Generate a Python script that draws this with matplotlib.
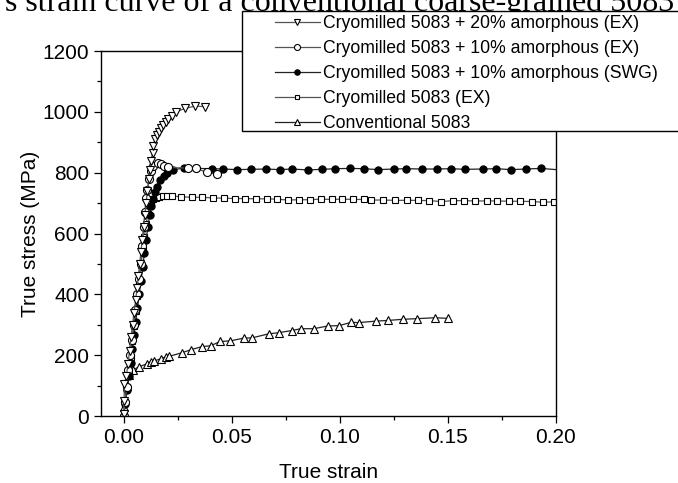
import matplotlib
matplotlib.use("Agg")
import matplotlib.pyplot as plt
from matplotlib.patches import Rectangle
from matplotlib.ticker import MultipleLocator

plt.rcParams['font.family'] = ['Liberation Sans', 'DejaVu Sans']

# ---------------- data ----------------
labels = ["Cryomilled 5083 + 20% amorphous (EX)",
          "Cryomilled 5083 + 10% amorphous (EX)",
          "Cryomilled 5083 + 10% amorphous (SWG)",
          "Cryomilled 5083 (EX)",
          "Conventional 5083"]

am20_strain = [0.0000, 0.0002, 0.0003, 0.0012, 0.0020, 0.0027, 0.0034, 0.0041, 0.0048, 0.0055,
               0.0062, 0.0068, 0.0074, 0.0080, 0.0086, 0.0092, 0.0098, 0.0104, 0.0110, 0.0116,
               0.0121, 0.0126, 0.0134, 0.0137, 0.0145, 0.0153, 0.0162, 0.0173, 0.0183, 0.0196,
               0.0207, 0.0222, 0.0242, 0.0284, 0.0330, 0.0376]
am20_stress = [5, 50, 105, 130, 170, 215, 260, 300, 340, 380,
               420, 460, 500, 540, 580, 620, 660, 700, 740, 780,
               810, 839, 866, 888, 910, 924, 935, 946, 957, 968,
               975, 986, 1000, 1011, 1019, 1017]

am10ex_strain = [0.0000, 0.0006, 0.0014, 0.0022, 0.0030, 0.0038, 0.0046, 0.0054, 0.0062, 0.0070,
                 0.0078, 0.0086, 0.0093, 0.0098, 0.0103, 0.0109, 0.0119, 0.0126, 0.0137, 0.0157,
                 0.0172, 0.0187, 0.0207, 0.0300, 0.0335, 0.0384, 0.0430]
am10ex_stress = [0, 45, 95, 150, 200, 250, 300, 350, 400, 450,
                 500, 560, 620, 670, 716, 743, 778, 806, 822, 833,
                 828, 823, 817, 815, 814, 801, 795]

swg_strain = [0.0000, 0.0008, 0.0016, 0.0024, 0.0032, 0.0040, 0.0048, 0.0056, 0.0064, 0.0072,
              0.0080, 0.0088, 0.0096, 0.0104, 0.0112, 0.0120, 0.0128, 0.0136, 0.0145, 0.0153,
              0.0168, 0.0187, 0.0202, 0.0230, 0.0279, 0.0337, 0.0410, 0.0461, 0.0526, 0.0589,
              0.0657, 0.0722, 0.0780, 0.0853, 0.0918, 0.0981, 0.1049, 0.1114, 0.1177, 0.1253,
              0.1308, 0.1381, 0.1450, 0.1514, 0.1582, 0.1662, 0.1725, 0.1795, 0.1863, 0.1931,
              0.2040]
swg_stress = [0, 40, 85, 130, 175, 220, 265, 310, 355, 400,
              445, 490, 535, 580, 620, 660, 690, 715, 737, 754,
              776, 789, 798, 809, 816, 814, 813, 812, 810, 811,
              812, 810, 812, 809, 811, 813, 814, 813, 810, 812,
              813, 812, 812, 813, 811, 812, 813, 810, 812, 814,
              808]

ex_strain = [0.0000, 0.0008, 0.0016, 0.0024, 0.0032, 0.0040, 0.0048, 0.0056, 0.0064, 0.0072,
             0.0080, 0.0088, 0.0096, 0.0104, 0.0112, 0.0120, 0.0128, 0.0137, 0.0150, 0.0165,
             0.0180, 0.0199, 0.0222, 0.0265, 0.0315, 0.0361, 0.0415, 0.0466, 0.0515, 0.0562,
             0.0612, 0.0662, 0.0708, 0.0759, 0.0812, 0.0862, 0.0913, 0.0963, 0.1012, 0.1063,
             0.1114, 0.1145, 0.1202, 0.1256, 0.1310, 0.1361, 0.1415, 0.1472, 0.1523, 0.1577,
             0.1626, 0.1681, 0.1731, 0.1784, 0.1835, 0.1889, 0.1941, 0.1993]
ex_stress = [0, 45, 95, 145, 195, 245, 295, 345, 395, 445,
             495, 545, 590, 630, 665, 690, 705, 712, 718, 721,
             722, 722, 723, 721, 719, 719, 717, 716, 715, 715,
             714, 714, 713, 710, 711, 711, 713, 712, 713, 712,
             712, 710, 710, 709, 709, 709, 708, 705, 708, 708,
             707, 707, 707, 706, 706, 705, 703, 704]

conv_strain = [0.0000, 0.0003, 0.0015, 0.0025, 0.0042, 0.0072, 0.0106, 0.0126, 0.0140, 0.0173,
               0.0196, 0.0210, 0.0270, 0.0312, 0.0362, 0.0403, 0.0447, 0.0494, 0.0556, 0.0595,
               0.0671, 0.0718, 0.0779, 0.0821, 0.0880, 0.0946, 0.0997, 0.1054, 0.1088, 0.1169,
               0.1222, 0.1293, 0.1358, 0.1440, 0.1503]
conv_stress = [10, 28, 100, 135, 151, 162, 171, 179, 181, 188,
               195, 196, 208, 218, 228, 231, 245, 247, 256, 257,
               270, 274, 281, 287, 287, 296, 297, 308, 307, 312,
               314, 318, 320, 323, 321]

x_ticks = [0.00, 0.05, 0.10, 0.15, 0.20]
x_ticklabels = ["0.00", "0.05", "0.10", "0.15", "0.20"]
y_ticks = [0, 200, 400, 600, 800, 1000, 1200]

# ---------------- figure ----------------
W, H = 678, 483
fig = plt.figure(figsize=(W / 100, H / 100), dpi=100)
ax = fig.add_axes([101 / W, 1 - 416 / H, (555.5 - 101) / W, (416 - 51) / H])

common = dict(linewidth=0.9, markeredgewidth=0.8, markeredgecolor='black')
h5, = ax.plot(conv_strain, conv_stress, color='#222222', marker='^', markersize=5.5,
              markerfacecolor='white', **common)
h4, = ax.plot(ex_strain, ex_stress, color='#555555', marker='s', markersize=4,
              markerfacecolor='white', **common)
h3, = ax.plot(swg_strain, swg_stress, color='#222222', marker='o', markersize=5.2,
              markerfacecolor='black', **common)
h2, = ax.plot(am10ex_strain, am10ex_stress, color='#555555', marker='o', markersize=5.8,
              markerfacecolor='white', **common)
h1, = ax.plot(am20_strain, am20_stress, color='#555555', marker='v', markersize=5.8,
              markerfacecolor='white', **common)

ax.set_xlim(-0.0105, 0.20)
ax.set_ylim(0, 1200)
ax.set_xticks(x_ticks)
ax.set_xticklabels(x_ticklabels)
ax.set_yticks(y_ticks)
ax.xaxis.set_minor_locator(MultipleLocator(0.025))
ax.yaxis.set_minor_locator(MultipleLocator(100))
ax.tick_params(which='major', direction='out', length=5, width=0.9, labelsize=15,
               top=False, right=False)
ax.tick_params(which='minor', direction='out', length=3, width=0.9, top=False, right=False)
for s in ax.spines.values():
    s.set_linewidth(1.0)

ax.set_xlabel("True strain", fontsize=15, labelpad=12)
ax.set_ylabel("True stress (MPa)", fontsize=15, labelpad=1.5)

# legend box (extends past the figure edge as in the reference)
fig.patches.append(Rectangle((242 / W, 1 - 131 / H), (700 - 242) / W, (131 - 11) / H,
                             transform=fig.transFigure, facecolor='white',
                             edgecolor='black', linewidth=1.0, zorder=5))
leg = fig.legend([h1, h2, h3, h4, h5], labels, loc='upper left',
                 bbox_to_anchor=(275 / W, 1 - 15 / H), frameon=False, fontsize=12.7,
                 numpoints=1, handlelength=2.55, handletextpad=0.17, labelspacing=0.46,
                 borderpad=0, borderaxespad=0, markerscale=0.75)
leg.set_zorder(6)

fig.text(674 / W, 1 - 11 / H, "s strain curve of a conventional coarse-grained 5083",
         ha='right', va='baseline', fontsize=23, family='Liberation Serif', zorder=4)

fig.savefig("out.png", dpi=100)
